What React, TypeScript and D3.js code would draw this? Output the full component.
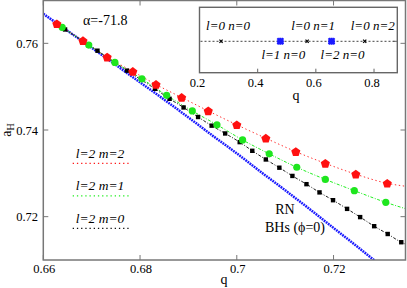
import React from 'react';
import * as d3 from 'd3';

// RN black holes (phi = 0)
const rnQ = [0.66, 0.665, 0.67, 0.675, 0.68, 0.685, 0.69, 0.695, 0.7, 0.705, 0.71, 0.715, 0.72, 0.725, 0.73];
const rnA = [0.7668, 0.7629, 0.759, 0.755, 0.751, 0.747, 0.7429, 0.7387, 0.7346, 0.7303, 0.7261, 0.7218, 0.7174, 0.713, 0.7085];

// l=2 m=2
const m2Q = [0.6628, 0.6682, 0.6732, 0.6785, 0.6833, 0.6886, 0.6941, 0.7, 0.706, 0.7122, 0.7183, 0.7246, 0.7311];
const m2A = [0.7645, 0.7606, 0.7568, 0.7535, 0.7505, 0.7475, 0.7444, 0.7412, 0.7381, 0.735, 0.7323, 0.7298, 0.7277];

// l=2 m=1
const m1Q = [0.6639, 0.6694, 0.6748, 0.6804, 0.6855, 0.6908, 0.6959, 0.7012, 0.7067, 0.7124, 0.7183, 0.7243, 0.7308];
const m1A = [0.7637, 0.7596, 0.7556, 0.7518, 0.748, 0.7444, 0.7412, 0.7377, 0.7345, 0.7314, 0.7286, 0.726, 0.7233];

// l=2 m=0
const m0Q = [0.6645, 0.6712, 0.6773, 0.6831, 0.6861, 0.689, 0.692, 0.6948, 0.6976, 0.7006, 0.7032, 0.706, 0.7088, 0.7115, 0.7144, 0.7171, 0.7199, 0.7228, 0.7255, 0.7284, 0.7312, 0.734];
const m0A = [0.7632, 0.7583, 0.7537, 0.7495, 0.7472, 0.7452, 0.743, 0.741, 0.7392, 0.7372, 0.7352, 0.7332, 0.7313, 0.7294, 0.7275, 0.7256, 0.7238, 0.7218, 0.7199, 0.7178, 0.716, 0.7141];

// the dotted curves run on past the last marker to the frame
const tailQ = 0.735;
const tailA = [0.727, 0.7218, 0.7136]; // m=2, m=1, m=0

const xTicks = [0.66, 0.68, 0.7, 0.72];
const yTicks = [0.72, 0.74, 0.76];

// inset: q of the branching points
const insetTicks = [0.2, 0.4, 0.6, 0.8];
const l0Q = [0.274, 0.57, 0.768];
const l0Labels = ['l=0 n=0', 'l=0 n=1', 'l=0 n=2'];
const lnQ = [0.478, 0.654];
const lnLabels = ['l=1 n=0', 'l=2 n=0'];

const legend = [
  { label: 'l=2 m=2', color: '#ff1a1a' },
  { label: 'l=2 m=1', color: '#22ee22' },
  { label: 'l=2 m=0', color: '#111' },
];

const serif = "'Liberation Serif', 'Times New Roman', Times, 'DejaVu Serif', serif";

function pentagon(r: number) {
  const pts = d3.range(5).map((i) => {
    const a = -Math.PI / 2 + (i * 2 * Math.PI) / 5;
    return [r * Math.cos(a), r * Math.sin(a)] as [number, number];
  });
  return d3.line()(pts) + 'Z';
}

export default function App() {
  const width = 407;
  const height = 288;
  const left = 43.3;
  const right = 405.5;
  const top = 0.5;
  const bottom = 260;

  const x = d3.scaleLinear().domain([0.66, 0.735]).range([left, right + 0.6]);
  const y = d3.scaleLinear().domain([0.71, 0.77]).range([bottom, 0]);

  const line = d3
    .line<[number, number]>()
    .x((d) => x(d[0]))
    .y((d) => y(d[1]))
    .curve(d3.curveMonotoneX);

  const rn = rnQ.map((q, i) => [q, rnA[i]] as [number, number]);
  const s2 = m2Q.map((q, i) => [q, m2A[i]] as [number, number]);
  const s1 = m1Q.map((q, i) => [q, m1A[i]] as [number, number]);
  const s0 = m0Q.map((q, i) => [q, m0A[i]] as [number, number]);

  // inset geometry
  const ix = d3.scaleLinear().domain([0.2, 0.88]).range([199.5, 397.3]);
  const iTop = 7.3;
  const iBottom = 72.7;
  const iy = 41.3;

  const axisColor = '#777';

  return (
    <svg width={width} height={height} style={{ position: 'absolute', left: 0, top: 0, background: '#fff', fontFamily: serif }}>
      <defs>
        <clipPath id="plot">
          <rect x={left} y={top} width={right - left} height={bottom - top} />
        </clipPath>
      </defs>

      <g clipPath="url(#plot)">
        <path d={line(rn) || ''} fill="none" stroke="#1a1aff" strokeWidth={2.5} strokeDasharray="1.8,0.8" />
        <path d={line([...s2, [tailQ, tailA[0]]]) || ''} fill="none" stroke="#ff3030" strokeWidth={1} strokeDasharray="1.4,2.6" />
        <path d={line([...s1, [tailQ, tailA[1]]]) || ''} fill="none" stroke="#22ee22" strokeWidth={1} strokeDasharray="3,1.6,1,1.6" />
        <path d={line([...s0, [tailQ, tailA[2]]]) || ''} fill="none" stroke="#222" strokeWidth={1} strokeDasharray="3,1.6,1,1.6" />

        {s0.map((d, i) => (
          <rect key={'b' + i} x={x(d[0]) - 2.2} y={y(d[1]) - 2.2} width={4.4} height={4.4} fill="#000" />
        ))}
        {s1.map((d, i) => (
          <circle key={'g' + i} cx={x(d[0])} cy={y(d[1])} r={3.6} fill="#1ee61e" />
        ))}
        {s2.map((d, i) => (
          <path key={'r' + i} d={pentagon(4.8)} transform={`translate(${x(d[0])},${y(d[1]) + 0.4})`} fill="#ff1010" />
        ))}
      </g>

      {/* frame */}
      <rect x={left} y={top} width={right - left} height={bottom - top} fill="none" stroke={axisColor} strokeWidth={1.5} />
      {xTicks.map((t) => (
        <g key={'xt' + t}>
          <line x1={x(t)} x2={x(t)} y1={bottom} y2={bottom - 5} stroke={axisColor} />
          <line x1={x(t)} x2={x(t)} y1={top} y2={top + 5} stroke={axisColor} />
          <text x={x(t) + 1} y={273} fontSize={12.5} textAnchor="middle">
            {String(t)}
          </text>
        </g>
      ))}
      {yTicks.map((t) => (
        <g key={'yt' + t}>
          <line x1={left} x2={left + 5} y1={y(t)} y2={y(t)} stroke={axisColor} />
          <line x1={right} x2={right - 5} y1={y(t)} y2={y(t)} stroke={axisColor} />
          <text x={38} y={y(t) + 4.5} fontSize={12.5} textAnchor="end">
            {String(t)}
          </text>
        </g>
      ))}
      <text x={224} y={284} fontSize={14} textAnchor="middle">
        q
      </text>
      <text transform="translate(11,130) rotate(-90)" fontSize={14} textAnchor="middle">
        a<tspan fontSize={10} dy={3}>H</tspan>
      </text>
      <text x={83} y={25} fontSize={14}>
        α=-71.8
      </text>

      <text x={285} y={214} fontSize={14} textAnchor="middle">
        RN
      </text>
      <text x={295} y={232} fontSize={14} textAnchor="middle">
        BHs (ϕ=0)
      </text>

      {/* legend */}
      {legend.map((l, i) => (
        <g key={l.label}>
          <text x={100} y={157.5 + i * 32.6} fontSize={13.5} fontStyle="italic" textAnchor="middle">
            {l.label}
          </text>
          <line x1={72.7} x2={131} y1={163.3 + i * 32.5} y2={163.3 + i * 32.5} stroke={l.color} strokeWidth={1.3} strokeDasharray="1.3,2.9" />
        </g>
      ))}

      {/* inset */}
      <rect x={ix(0.2)} y={iTop} width={ix(0.88) - ix(0.2)} height={iBottom - iTop} fill="#fff" stroke="#666" strokeWidth={1.4} />
      {insetTicks.map((t) => (
        <g key={'it' + t}>
          {t > 0.2 && <line x1={ix(t)} x2={ix(t)} y1={iBottom} y2={iBottom - 4} stroke="#666" />}
          <text x={ix(t) - 2} y={86.5} fontSize={12.5} textAnchor="middle">
            {String(t)}
          </text>
        </g>
      ))}
      <line x1={ix(0.88)} x2={ix(0.88) - 4} y1={iy} y2={iy} stroke="#666" />
      <text x={296} y={100} fontSize={14} textAnchor="middle">
        q
      </text>
      <line x1={ix(0.2) + 1} x2={ix(0.88) - 1} y1={iy} y2={iy} stroke="#444" strokeWidth={1} strokeDasharray="2,2" />
      {l0Q.map((q, i) => (
        <g key={'l0' + i}>
          <path d="M-1.6,-1.6L1.6,1.6M-1.6,1.6L1.6,-1.6" transform={`translate(${ix(q)},${iy})`} stroke="#000" strokeWidth={1.2} />
          <text x={ix(q) + [7, 6, 8][i]} y={30} fontSize={13} fontStyle="italic" textAnchor="middle">
            {l0Labels[i]}
          </text>
        </g>
      ))}
      {lnQ.map((q, i) => (
        <g key={'ln' + i}>
          <path d="M-3.5,0H3.5M0,-3.5V3.5M-3,-3L3,3M-3,3L3,-3" transform={`translate(${ix(q)},${iy})`} stroke="#1a1aff" strokeWidth={2.2} />
          <text x={ix(q) + [3, 11][i]} y={59} fontSize={13} fontStyle="italic" textAnchor="middle">
            {lnLabels[i]}
          </text>
        </g>
      ))}
    </svg>
  );
}
